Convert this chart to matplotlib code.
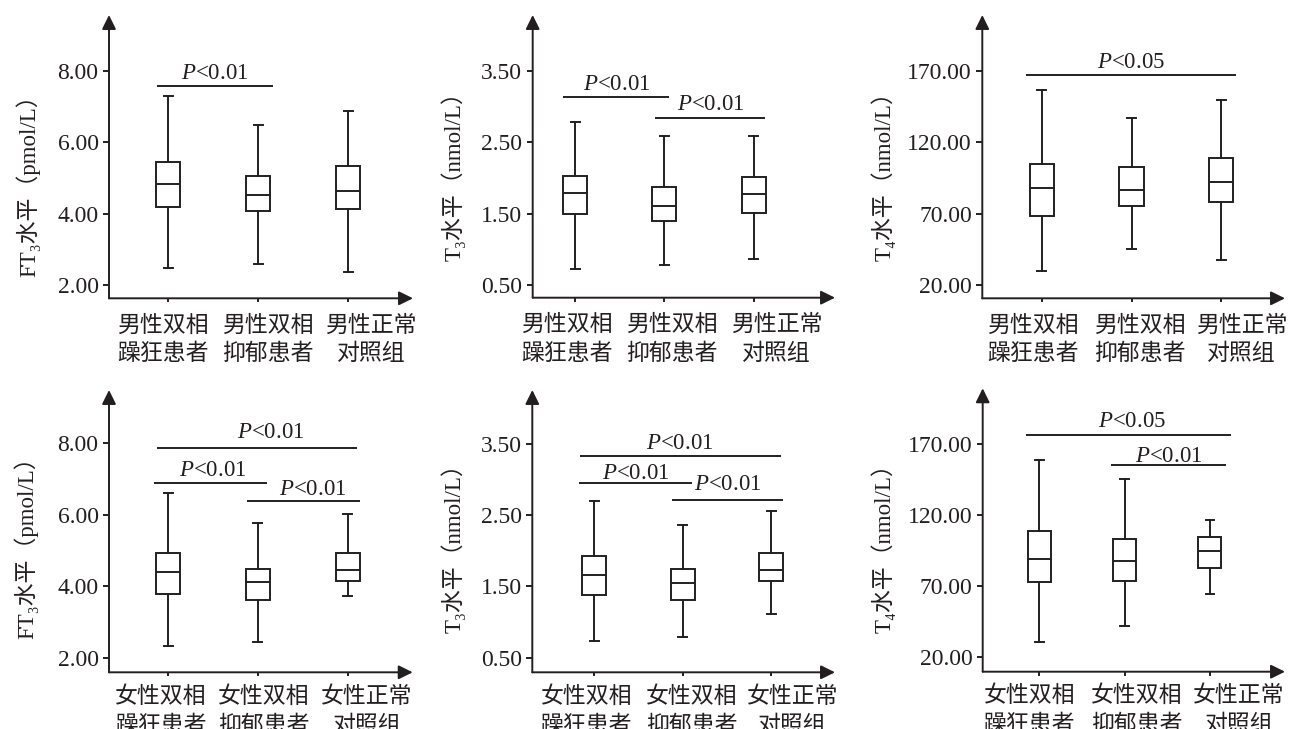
import matplotlib
matplotlib.use('Agg')
import matplotlib.pyplot as plt
from matplotlib.patches import FancyArrowPatch
from matplotlib.transforms import ScaledTranslation

plt.rcParams['mathtext.fontset'] = 'custom'
plt.rcParams['mathtext.rm'] = 'Liberation Serif'
plt.rcParams['mathtext.it'] = 'Liberation Serif:italic'

# ---------------- data ----------------
male_groups = ['男性双相\n躁狂患者', '男性双相\n抑郁患者', '男性正常\n对照组']
female_groups = ['女性双相\n躁狂患者', '女性双相\n抑郁患者', '女性正常\n对照组']

# each group: [lower whisker, Q1, median, Q3, upper whisker]
ft3_male = [[2.49, 4.18, 4.84, 5.44, 7.31],
            [2.59, 4.08, 4.53, 5.07, 6.49],
            [2.37, 4.13, 4.64, 5.33, 6.87]]
t3_male = [[0.73, 1.49, 1.79, 2.03, 2.79],
           [0.775, 1.40, 1.61, 1.87, 2.59],
           [0.87, 1.51, 1.77, 2.02, 2.59]]
t4_male = [[30.0, 68.5, 87.9, 104.9, 156.9],
           [45.2, 75.5, 86.5, 102.8, 137.3],
           [37.8, 78.5, 92.1, 108.9, 149.9]]
ft3_female = [[2.32, 3.79, 4.39, 4.92, 6.60],
              [2.43, 3.62, 4.11, 4.49, 5.76],
              [3.72, 4.14, 4.46, 4.93, 6.02]]
t3_female = [[0.73, 1.38, 1.66, 1.92, 2.69],
             [0.79, 1.31, 1.54, 1.74, 2.36],
             [1.11, 1.57, 1.73, 1.97, 2.55]]
t4_female = [[30.5, 72.6, 89.0, 108.7, 158.6],
             [41.9, 73.5, 87.4, 102.9, 145.0],
             [64.6, 82.6, 95.0, 104.7, 116.2]]

ft3_ticks = [2.0, 4.0, 6.0, 8.0]
t3_ticks = [0.5, 1.5, 2.5, 3.5]
t4_ticks = [20.0, 70.0, 120.0, 170.0]

ft3_label = 'FT₃水平（pmol/L）'
t3_label = 'T₃水平（nmol/L）'
t4_label = 'T₄水平（nmol/L）'

# significance brackets: (x_start, x_end, line_y, text_x, text_baseline_y, text)
ft3_male_sig = [(-0.12, 1.16, 7.58, 0.52, 7.77, r'$P$<0.01')]
t3_male_sig = [(-0.14, 1.05, 3.14, 0.47, 3.24, r'$P$<0.01'),
               (0.90, 2.13, 2.845, 1.52, 2.96, r'$P$<0.01')]
t4_male_sig = [(-0.18, 2.16, 166.7, 0.99, 171.9, r'$P$<0.05')]
ft3_female_sig = [(-0.12, 2.10, 7.86, 1.14, 8.14, r'$P$<0.01'),
                  (-0.16, 1.10, 6.90, 0.50, 7.08, r'$P$<0.01'),
                  (0.88, 2.13, 6.39, 1.61, 6.54, r'$P$<0.01')]
t3_female_sig = [(-0.16, 2.11, 3.33, 0.97, 3.42, r'$P$<0.01'),
                 (-0.17, 1.10, 2.945, 0.47, 3.00, r'$P$<0.01'),
                 (0.88, 2.13, 2.71, 1.51, 2.85, r'$P$<0.01')]
t4_female_sig = [(-0.16, 2.25, 176.1, 1.09, 181.9, r'$P$<0.05'),
                 (0.84, 2.19, 154.8, 1.52, 157.4, r'$P$<0.01')]

# ---------------- layout / style ----------------
W, H = 1292, 729
INK = '#231f20'
SERIF = ['Liberation Serif', 'DejaVu Serif', 'Noto Sans CJK SC']
CJK = ['Noto Sans CJK SC', 'DejaVu Sans']
LW = 1.4

fig = plt.figure(figsize=(W / 100, H / 100), dpi=100)
fig.patch.set_facecolor('white')


def panel(rect_px, stats, groups, ticks, ylabel, xlim, ylim, sigs,
          label_center_px, label_right_px, xlab_dx, xpad):
    l, r, t, b = rect_px
    ax = fig.add_axes([l / W, 1 - b / H, (r - l) / W, (b - t) / H])
    ax.set_facecolor('none')
    bstats = [dict(whislo=s[0], q1=s[1], med=s[2], q3=s[3], whishi=s[4]) for s in stats]
    ax.bxp(bstats, positions=[0, 1, 2], widths=0.27, capwidths=0.1,
           showfliers=False, patch_artist=True,
           boxprops=dict(facecolor='white', edgecolor=INK, linewidth=LW),
           medianprops=dict(color=INK, linewidth=LW),
           whiskerprops=dict(color=INK, linewidth=LW),
           capprops=dict(color=INK, linewidth=LW))
    ax.set_xlim(*xlim)
    ax.set_ylim(*ylim)
    for sp in ax.spines.values():
        sp.set_visible(False)
    for p0, p1 in [((0, 0), (0, 1)), ((0, 0), (1, 0))]:
        ax.add_patch(FancyArrowPatch(p0, p1, transform=ax.transAxes,
                                     arrowstyle='-|>,head_length=0.85,head_width=0.42',
                                     mutation_scale=10, color=INK, lw=LW,
                                     shrinkA=0, shrinkB=0, clip_on=False, zorder=5))
    ax.set_yticks(ticks)
    ax.set_yticklabels(['%.2f' % v for v in ticks], family=SERIF, fontsize=17, color=INK)
    ax.tick_params(axis='y', direction='out', length=4.5, width=LW, pad=3, colors=INK)
    ax.set_xticks([0, 1, 2])
    ax.set_xticklabels(groups, family=CJK, fontsize=16.5, color=INK,
                       linespacing=1.32, multialignment='center')
    ax.tick_params(axis='x', direction='out', length=3, width=LW, pad=xpad, colors=INK)
    for lab, dx in zip(ax.get_xticklabels(), xlab_dx):
        lab.set_transform(lab.get_transform() + ScaledTranslation(dx / 100, 0, fig.dpi_scale_trans))
    ax.set_ylabel(ylabel, family=SERIF, fontsize=16.5, color=INK)
    ax.yaxis.set_label_coords((label_right_px - l) / (r - l), (b - label_center_px) / (b - t))
    for x1, x2, y, tx, ty, txt in sigs:
        ax.plot([x1, x2], [y, y], color=INK, lw=LW, solid_capstyle='butt', clip_on=False)
        ax.text(tx, ty, txt, ha='center', va='baseline', family=SERIF, fontsize=16.5, color=INK)
    return ax


panel((109, 413, 15, 298.3), ft3_male, male_groups, ft3_ticks, ft3_label,
      (-0.656, 2.72), (1.63, 9.57), ft3_male_sig, 180, 40, [-5, 10, 23], 8)
panel((532.7, 835, 15, 297.7), t3_male, male_groups, t3_ticks, t3_label,
      (-0.474, 2.91), (0.32, 4.29), t3_male_sig, 171, 466, [-8, 7, 23], 8)
panel((982.3, 1285, 15, 298.3), t4_male, male_groups, t4_ticks, t4_label,
      (-0.663, 2.71), (10.9, 209.0), t4_male_sig, 171, 896, [-9, 8, 20], 8)
panel((109, 412.7, 390, 672.3), ft3_female, female_groups, ft3_ticks, ft3_label,
      (-0.656, 2.72), (1.59, 9.49), ft3_female_sig, 541.7, 38, [-7, 6, 19], 6)
panel((532.3, 835, 390, 672.3), t3_female, female_groups, t3_ticks, t3_label,
      (-0.70, 2.72), (0.295, 4.25), t3_female_sig, 542.8, 466, [-8, 9, 21], 6)
panel((982.7, 1285, 388.3, 671.7), t4_female, female_groups, t4_ticks, t4_label,
      (-0.663, 2.88), (9.9, 208.9), t4_female_sig, 542.8, 896, [-10, 12, 29], 6)

fig.savefig('out.png', dpi=100, facecolor='white')
